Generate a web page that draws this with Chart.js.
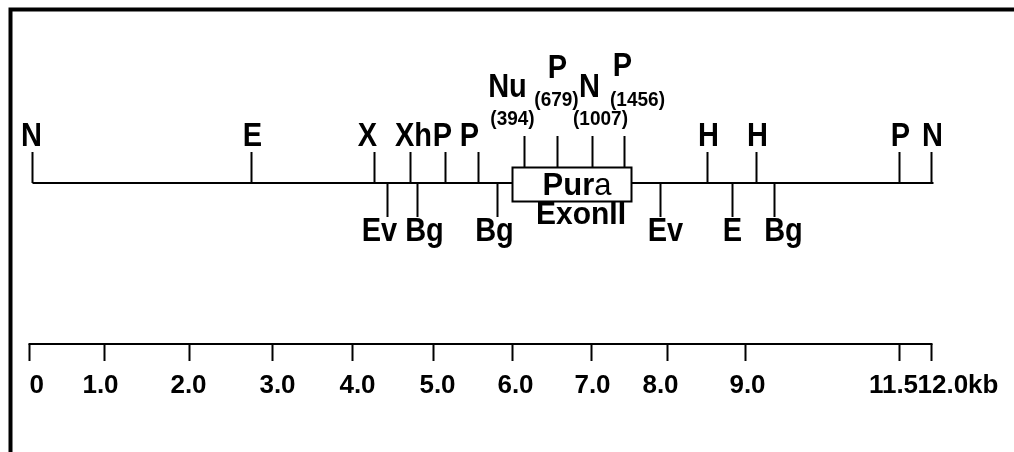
<!DOCTYPE html>
<html>
<head>
<meta charset="utf-8">
<script src="https://cdn.jsdelivr.net/npm/chart.js@4"></script>
<style>
  body { margin: 0; background: #fff; }
  #wrap { width: 1014px; height: 452px; position: relative; }
</style>
</head>
<body>
<div id="wrap"><canvas id="map-chart"></canvas></div>
<script>
// ------------------ Map data (kb along the map) -------------------//
const topSiteNames = ["N", "E", "X", "Xh", "P", "P", "H", "H", "P", "N"];
const topSiteKb = [0, 2.92, 4.56, 5.05, 5.51, 5.95, 9.01, 9.66, 11.57, 12.0];

const exonSiteNames = ["Nu", "P", "N", "P"];
const exonSiteBp = [394, 679, 1007, 1456];
const exonSiteKb = [6.57, 7.01, 7.47, 7.90];

const bottomSiteNames = ["Ev", "Bg", "Bg", "Ev", "E", "Bg"];
const bottomSiteKb = [4.74, 5.14, 6.21, 8.38, 9.34, 9.90];

const exonKb = [6.41, 8.00];

const scaleTickLabels = ["0", "1.0", "2.0", "3.0", "4.0", "5.0", "6.0", "7.0", "8.0", "9.0", "11.5", "12.0kb"];
const scaleTickKb = [-0.04, 0.96, 2.10, 3.20, 4.27, 5.35, 6.41, 7.46, 8.48, 9.52, 11.57, 12.0];

// ------------------ Layout (pixels) -------------------//
const MAP_Y = 183, TOP_TICK_Y = 152, EXON_TICK_Y = 136;
const BOX_TOP = 167, BOX_BOTTOM = 201, BOTTOM_TICK_Y = 217;
const SCALE_Y = 344, SCALE_TICK_Y = 361;
const topLabelDx = [-1, 1, -7, 3, -3, -9, 1, 1, 1, 1];
const exonNameDx = [-17, 0, -3, -2];
const exonNameY = [97, 78, 97, 76];
const exonBpDx = [-12, -1, 8, 13];
const exonBpY = [125, 106, 125, 106];
const bottomLabelDx = [-8, 7, -3, 5, 0, 9];
const scaleLabelDx = [0, -4, -1, 5, 5, 4, 3, 1, -7, 2, -6, -14];

const FONT = '"Liberation Sans", Arial, sans-serif';

function label(ctx, text, x, y, size, sy, align, weight) {
    ctx.save();
    ctx.translate(x, y);
    ctx.scale(1, sy);
    ctx.font = `${weight || 'bold'} ${size}px ${FONT}`;
    ctx.textAlign = align || 'center';
    ctx.textBaseline = 'alphabetic';
    ctx.fillText(text, 0, 0);
    ctx.restore();
}

function vline(ctx, x, y1, y2) {
    ctx.beginPath();
    ctx.moveTo(x, y1);
    ctx.lineTo(x, y2);
    ctx.stroke();
}

const mapPlugin = {
    id: 'restrictionMap',
    afterDraw(chart) {
        const ctx = chart.ctx;
        const xs = chart.scales.x, ys = chart.scales.y;
        const px = v => Math.round(xs.getPixelForValue(v)) + 0.5;
        const py = v => ys.getPixelForValue(v);

        ctx.save();
        ctx.strokeStyle = '#000';
        ctx.fillStyle = '#000';

        // frame
        ctx.lineWidth = 4;
        ctx.beginPath();
        ctx.moveTo(1014, 9.5);
        ctx.lineTo(10.5, 9.5);
        ctx.lineTo(10.5, 452);
        ctx.stroke();

        // main map line
        ctx.lineWidth = 2;
        ctx.beginPath();
        ctx.moveTo(px(0), py(MAP_Y));
        ctx.lineTo(px(12) + 2, py(MAP_Y));
        ctx.stroke();

        // sites above the line
        topSiteKb.forEach((kb, i) => {
            vline(ctx, px(kb), py(TOP_TICK_Y), py(MAP_Y));
            label(ctx, topSiteNames[i], px(kb) + topLabelDx[i], py(146), 29, 1.13);
        });

        // sites below the line
        bottomSiteKb.forEach((kb, i) => {
            vline(ctx, px(kb), py(MAP_Y), py(BOTTOM_TICK_Y));
            label(ctx, bottomSiteNames[i], px(kb) + bottomLabelDx[i], py(241), 29, 1.12);
        });

        // exon box
        const bx1 = px(exonKb[0]), bx2 = px(exonKb[1]);
        ctx.fillStyle = '#fff';
        ctx.fillRect(bx1, py(BOX_TOP), bx2 - bx1, py(BOX_BOTTOM) - py(BOX_TOP));
        ctx.fillStyle = '#000';
        ctx.strokeRect(bx1, py(BOX_TOP) + 0.5, bx2 - bx1, py(BOX_BOTTOM) - py(BOX_TOP));

        // sites inside the exon
        exonSiteKb.forEach((kb, i) => {
            vline(ctx, px(kb), py(EXON_TICK_Y), py(BOX_TOP));
            label(ctx, exonSiteNames[i], px(kb) + exonNameDx[i], py(exonNameY[i]), 29, 1.12);
            label(ctx, '(' + exonSiteBp[i] + ')', px(kb) + exonBpDx[i], py(exonBpY[i]), 19, 1.1);
        });

        // Pura / ExonII
        ctx.font = `bold 31px ${FONT}`;
        const w1 = ctx.measureText('Pur').width;
        ctx.font = `normal 31px ${FONT}`;
        const w2 = ctx.measureText('a').width;
        const cx = (bx1 + bx2) / 2 + 5;
        label(ctx, 'Pur', cx - (w1 + w2) / 2, py(195), 31, 1.03, 'left');
        label(ctx, 'a', cx - (w1 + w2) / 2 + w1, py(195), 31, 1.03, 'left', 'normal');
        label(ctx, 'ExonII', cx + 4, py(224), 30, 1.03);

        // kb scale bar
        ctx.lineWidth = 2;
        ctx.beginPath();
        ctx.moveTo(px(scaleTickKb[0]) - 1, py(SCALE_Y));
        ctx.lineTo(px(scaleTickKb[scaleTickKb.length - 1]) + 1, py(SCALE_Y));
        ctx.stroke();
        scaleTickKb.forEach((kb, i) => {
            vline(ctx, px(kb), py(SCALE_Y), py(SCALE_TICK_Y));
            const last = i === scaleTickKb.length - 1;
            const align = (i === 0 || last) ? 'left' : 'center';
            label(ctx, scaleTickLabels[i], px(kb) + scaleLabelDx[i], py(393), 26, 1.0, align);
        });
        ctx.restore();
    }
};

const mapChart = new Chart(document.getElementById('map-chart'), {
    type: 'scatter',
    data: { datasets: [] },
    options: {
        responsive: true,
        maintainAspectRatio: false,
        animation: false,
        layout: { padding: 0 },
        scales: {
            x: { type: 'linear', min: -0.427, max: 13.108, display: false },
            y: { type: 'linear', min: 0, max: 452, reverse: true, display: false }
        },
        plugins: {
            legend: { display: false },
            tooltip: { enabled: false }
        }
    },
    plugins: [mapPlugin]
});
</script>
</body>
</html>
